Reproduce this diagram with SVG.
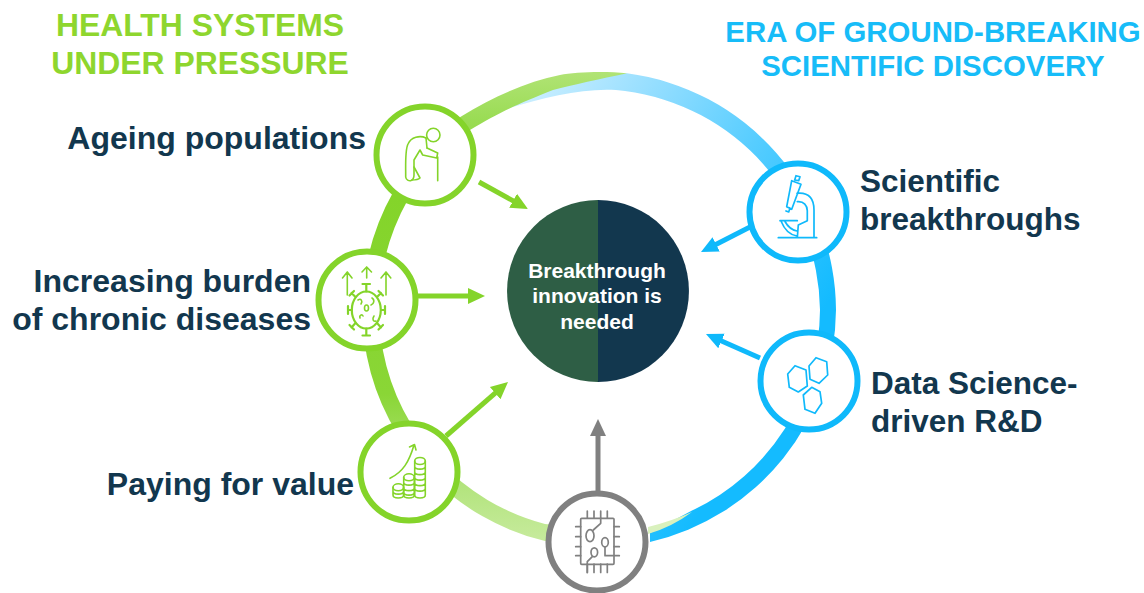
<svg xmlns="http://www.w3.org/2000/svg" width="1144" height="593" viewBox="0 0 1144 593">
<style>
text{font-family:"Liberation Sans",Arial,sans-serif;font-weight:700}
.t{font-size:32px;fill:#12374e}
.r{font-size:31.5px;fill:#12374e}
.e{text-anchor:end}
.hg{font-size:31.9px;fill:#8ed62e;text-anchor:middle}
.hb{font-size:29.4px;fill:#17bcf8;text-anchor:middle}
.c{font-size:21px;fill:#fff;text-anchor:middle}
.ng{fill:#fff;stroke:#84d42a;stroke-width:6}
.nb{fill:#fff;stroke:#0fb9fb;stroke-width:6}
.ny{fill:#fff;stroke:#808080;stroke-width:6}
.ig{fill:none;stroke:#84d42a;stroke-width:1.6;stroke-linecap:round;stroke-linejoin:round}
.iv{fill:none;stroke:#84d42a;stroke-width:2.2;stroke-linecap:round;stroke-linejoin:round}
.ib{fill:none;stroke:#0fb9fb;stroke-width:1.7;stroke-linecap:round;stroke-linejoin:round}
.iy{fill:none;stroke:#808080;stroke-width:1.7;stroke-linecap:round;stroke-linejoin:round}
.a{fill:none;stroke-width:5}
</style>
<defs>
<linearGradient id="gb" gradientUnits="userSpaceOnUse" x1="503" y1="100" x2="830" y2="300">
<stop offset="0" stop-color="#d4f1ff"/><stop offset=".35" stop-color="#8edcff"/><stop offset=".62" stop-color="#56cdff"/><stop offset=".85" stop-color="#2ac2ff"/><stop offset="1" stop-color="#14bbff"/>
</linearGradient>
<linearGradient id="gg" gradientUnits="userSpaceOnUse" x1="0" y1="73" x2="0" y2="545">
<stop offset="0" stop-color="#b0e374"/><stop offset=".1" stop-color="#9adc54"/><stop offset=".26" stop-color="#84d42a"/><stop offset=".68" stop-color="#8ad636"/><stop offset=".84" stop-color="#ade274"/><stop offset="1" stop-color="#c8eb9f"/>
</linearGradient>
<marker id="mg" markerUnits="userSpaceOnUse" markerWidth="18" markerHeight="18" refX="8" refY="9" orient="auto"><path d="M0 1L17 9L0 17Z" fill="#84d42a"/></marker>
<marker id="mb" markerUnits="userSpaceOnUse" markerWidth="18" markerHeight="18" refX="8" refY="9" orient="auto"><path d="M0 1L17 9L0 17Z" fill="#0fb9fb"/></marker>
<marker id="my" markerUnits="userSpaceOnUse" markerWidth="18" markerHeight="18" refX="8" refY="9" orient="auto"><path d="M0 1L17 9L0 17Z" fill="#808080"/></marker>
</defs>

<g id="ring">
<path d="M503 110C540 92 590 73 627 73.300A240 240 0 0 1 836 310A240 240 0 0 1 650 542L650 533L692 510.600A224 224 0 0 0 820 310A224 224 0 0 0 625 91C590 86 545 97 503 110Z" fill="url(#gb)"/>
<path d="M648 527Q672 521 692 512Q672 527 648 534Z" fill="#d9f1bd"/>
<path d="M627 73.300C605 71 575 72 560 75C527 81.700 493 96.700 460.700 116.700A238 238 0 0 0 545 541L600 546L600 530L545 524A222 222 0 0 1 470 130C500 112 520 103 553 90C573 85 600 79 627 73.300Z" fill="url(#gg)"/>
</g>

<g id="connectors">
<line class="a" x1="479" y1="182" x2="520.100" y2="204.700" stroke="#84d42a" marker-end="url(#mg)"/>
<line class="a" x1="416" y1="296" x2="476" y2="296" stroke="#84d42a" stroke-width="5.500" marker-end="url(#mg)"/>
<line class="a" x1="446" y1="436" x2="501.200" y2="387.900" stroke="#84d42a" marker-end="url(#mg)"/>
<line class="a" x1="598" y1="492" x2="598" y2="428" stroke="#808080" marker-end="url(#my)"/>
<line class="a" x1="750" y1="227" x2="709" y2="247.900" stroke="#0fb9fb" marker-end="url(#mb)"/>
<line class="a" x1="760" y1="358" x2="714.200" y2="337.700" stroke="#0fb9fb" marker-end="url(#mb)"/>
</g>

<g id="title-left">
<text class="hg" x="200" y="36">HEALTH SYSTEMS</text>
<text class="hg" x="200" y="74">UNDER PRESSURE</text>
</g>
<g id="title-right">
<text class="hb" x="933" y="42">ERA OF GROUND-BREAKING</text>
<text class="hb" x="933" y="76">SCIENTIFIC DISCOVERY</text>
</g>

<g id="center">
<path d="M598 200A91 91 0 0 0 598 382Z" fill="#2e5e45"/>
<path d="M598 200A91 91 0 0 1 598 382Z" fill="#12374e"/>
<text class="c" x="597" y="278">Breakthrough</text>
<text class="c" x="597" y="303">innovation is</text>
<text class="c" x="597" y="329">needed</text>
</g>

<g id="node-ageing">
<circle class="ng" cx="425" cy="155" r="48.500"/>
<g class="ig">
<circle cx="433.300" cy="135" r="6.700"/>
<path d="M426 138C420 135 411 137 408 144C405 150 405.700 160 405.700 177C406 180 409 181 410.700 180.700C413 180 414 178 414 175L414 160L420 150L422.700 155L436.700 158L437.700 153L427 148"/>
<path d="M437.700 157V180.700M414 167L420 178C418 180 415 180 412 180M427 148L426 138"/>
</g>
<text class="t e" x="366" y="149">Ageing populations</text>
</g>

<g id="node-chronic">
<circle class="ng" cx="367" cy="300" r="48.500"/>
<g class="ig">
<path d="M347.300 295V272M342.500 278L347.300 272L352 278M366.700 278V267M362 272L366.700 267L371.500 272M386 295V272M381 278L386 272L390.800 278"/>
</g>
<g class="iv">
<ellipse cx="366.300" cy="310" rx="14.500" ry="18.500"/>
<path d="M366.300 291.500V284M362.500 284H370M366.300 328.500V335.500M362.500 335.500H370M352 310H348M348 306V314M381 310H385M385 306V314M355.500 297L351.500 293M349.500 295.500L354 291M377 297L381 293M378.500 291L383 295.500M355.500 323L351.500 327.500M349.500 325L354 329.500M377 323L381 327.500M383 325L378.500 329.500"/>
</g>
<g class="ig">
<path d="M358 300C361 298 363 301 361 304M372 298C375 300 374 304 371 305M360 318C359 315 362 314 363 316M374 316C372 319 373 322 376 321"/>
<ellipse cx="366.500" cy="308" rx="2" ry="3"/>
</g>
<text class="t e" x="311" y="292">Increasing burden</text>
<text class="t e" x="311" y="330">of chronic diseases</text>
</g>

<g id="node-value">
<circle class="ng" cx="409" cy="472" r="48.500"/>
<g class="ig">
<path d="M390 478.300C403 472 409 462 414 445M409.500 447L414.500 444.500L416 450"/>
<ellipse cx="398.300" cy="487.300" rx="5.300" ry="3.500"/>
<path d="M393 487.300V495C393 499 403.600 499 403.600 495V487.300M393 491.500C393 495 403.600 495 403.600 491.500"/>
<ellipse cx="409" cy="477.300" rx="5.300" ry="3.500"/>
<path d="M403.700 477.300V495C403.700 499 414.300 499 414.300 495V477.300M403.700 482.500C403.700 486 414.300 486 414.300 482.500M403.700 488C403.700 491.500 414.300 491.500 414.300 488M403.700 492.500C403.700 496 414.300 496 414.300 492.500"/>
<ellipse cx="420" cy="461" rx="5.300" ry="3.500"/>
<path d="M414.700 461V495C414.700 499 425.300 499 425.300 495V461M414.700 466.500C414.700 470 425.300 470 425.300 466.500M414.700 472C414.700 475.500 425.300 475.500 425.300 472M414.700 477.500C414.700 481 425.300 481 425.300 477.500M414.700 483C414.700 486.500 425.300 486.500 425.300 483M414.700 488.500C414.700 492 425.300 492 425.300 488.500"/>
</g>
<text class="t e" x="354" y="495">Paying for value</text>
</g>

<g id="node-ai">
<circle class="ny" cx="597" cy="542" r="48.500"/>
<g class="iy">
<rect x="580.700" y="518.300" width="33.300" height="46" rx="1"/>
<path d="M587.300 511V518M594 511V518M600.700 511V518M607.300 511V518M587.300 564V572.500M594 564V572.500M600.700 564V572.500M607.300 564V572.500M575.700 526.700H580.700M575.700 536.700H580.700M575.700 546.700H580.700M575.700 555.700H580.700M614 526.700H619.300M614 536.700H619.300M614 546.700H619.300"/>
<ellipse cx="590" cy="535.700" rx="4" ry="6"/>
<ellipse cx="605" cy="542.300" rx="3.300" ry="4.700"/>
<ellipse cx="594.300" cy="552.300" rx="3.300" ry="4.500"/>
<path d="M593.300 530L600.700 523.300V518.300M605 547V555.700H619.300M592.300 556.700L587.300 561.700V572.500"/>
</g>
</g>

<g id="node-scientific">
<circle class="nb" cx="798" cy="212" r="48.500"/>
<g class="ib">
<path d="M778.300 237.700H816.700M791.700 180.700L801 184.300L791.700 209.300L786.700 206.700ZM796 175.700L800 176.700L798.700 180.700L794.700 180ZM787 207L790 208L788.700 212L786 211M797 193.300C810 192 814 200 814 210V237.700M797.300 201.700C804 201 807.300 206 807.300 210.700L807.300 220.700L798.300 225L797.300 237.700M780 220.700H797.300M781 221C785 231 790 235 797 236M785 221.500C788 227 792 230 797 231"/>
</g>
<text class="r" x="860" y="192">Scientific</text>
<text class="r" x="860" y="230">breakthroughs</text>
</g>

<g id="node-data">
<circle class="nb" cx="809" cy="381" r="48.500"/>
<g class="ib">
<path d="M795 365.700L806 370L807.300 386L798.300 392L789.300 387.300L787.700 374Z"/>
<path d="M816 357.700L826.700 361.700L827.700 375L819 383.300L810 379.300L809 366Z"/>
<path d="M811.700 387.300L820 391.700L821.700 403.300L815 413.300L805 409.300L803.300 395Z"/>
</g>
<text class="r" x="871" y="394">Data Science-</text>
<text class="r" x="871" y="432">driven R&amp;D</text>
</g>
</svg>
